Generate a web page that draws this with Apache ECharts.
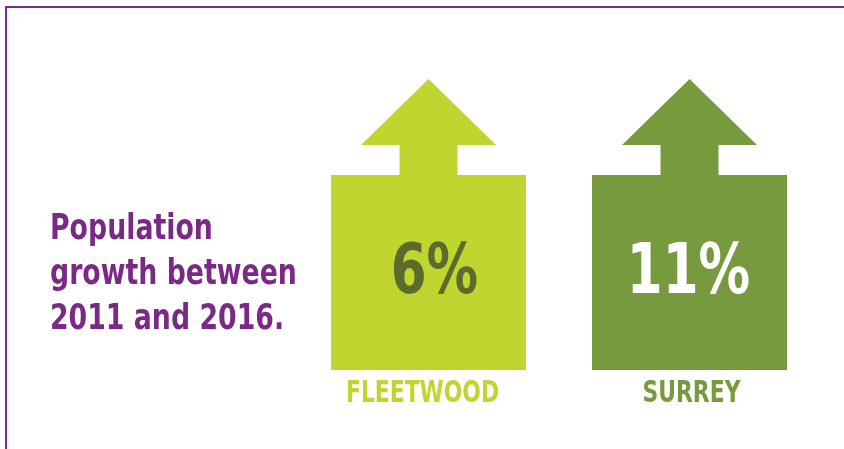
<!DOCTYPE html>
<html><head><meta charset="utf-8">
<script src="https://cdn.jsdelivr.net/npm/echarts@6/dist/echarts.min.js"></script>
<style>html,body{margin:0;padding:0;background:#fff}#c{width:844px;height:449px}</style>
</head><body><div id="c"></div>
<script>
const categories = ['FLEETWOOD', 'SURREY'];
const growthPct = [6, 11];
const valueLabels = ['6%', '11%'];
const titleText = 'Population\ngrowth between\n2011 and 2016.';

const arrowColors = ['#C1D531', '#789A3E'];
const valueTextColors = ['#5B6B2B', '#FFFFFF'];
const FONT = '"DejaVu Sans Condensed", "Roboto", sans-serif';

const chart = echarts.init(document.getElementById('c'));
chart.setOption({
  animation: false,
  backgroundColor: '#fff',
  graphic: [{
    type: 'polyline',
    shape: { points: [[6, 449], [6, 7], [844, 7]] },
    style: { stroke: '#7B2D8E', lineWidth: 2, fill: null }
  }, {
    type: 'text', x: 50, y: 207, scaleX: 0.85,
    style: { text: titleText, fill: '#7A2A86', font: 'bold 35px ' + FONT, lineHeight: 45,
      align: 'left', verticalAlign: 'top' }
  }],
  grid: { left: 298, width: 522, top: 79, bottom: 79 },
  xAxis: { type: 'category', data: categories, show: false },
  yAxis: { type: 'value', min: 0, max: 1, show: false },
  series: [{
    type: 'custom',
    data: categories.map((c, i) => [i, growthPct[i]]),
    renderItem: function (params, api) {
      const i = api.value(0);
      const base = api.coord([i, 0]);
      const cx = base[0], by = base[1];
      const bw = 195, bh = 195, sw = 58, sh = 30, hw = 135, hh = 66;
      const top = by - bh;
      const pts = [
        [cx - bw / 2, by], [cx + bw / 2, by], [cx + bw / 2, top], [cx + sw / 2, top],
        [cx + sw / 2, top - sh], [cx + hw / 2, top - sh], [cx, top - sh - hh],
        [cx - hw / 2, top - sh], [cx - sw / 2, top - sh], [cx - sw / 2, top], [cx - bw / 2, top]
      ];
      return {
        type: 'group',
        children: [
          { type: 'polygon', shape: { points: pts }, style: { fill: arrowColors[i] } },
          { type: 'text', x: cx + (i === 0 ? 6 : -1), y: by - 95, scaleX: 0.83, style: {
              text: valueLabels[i], fill: valueTextColors[i], font: 'bold 69px ' + FONT,
              align: 'center', verticalAlign: 'middle' } },
          { type: 'text', x: cx + (i === 0 ? -6 : 2), y: by + 24, scaleX: 0.81, style: {
              text: categories[i], fill: arrowColors[i], font: 'bold 30px ' + FONT,
              align: 'center', verticalAlign: 'middle' } }
        ]
      };
    }
  }]
});
</script></body></html>
